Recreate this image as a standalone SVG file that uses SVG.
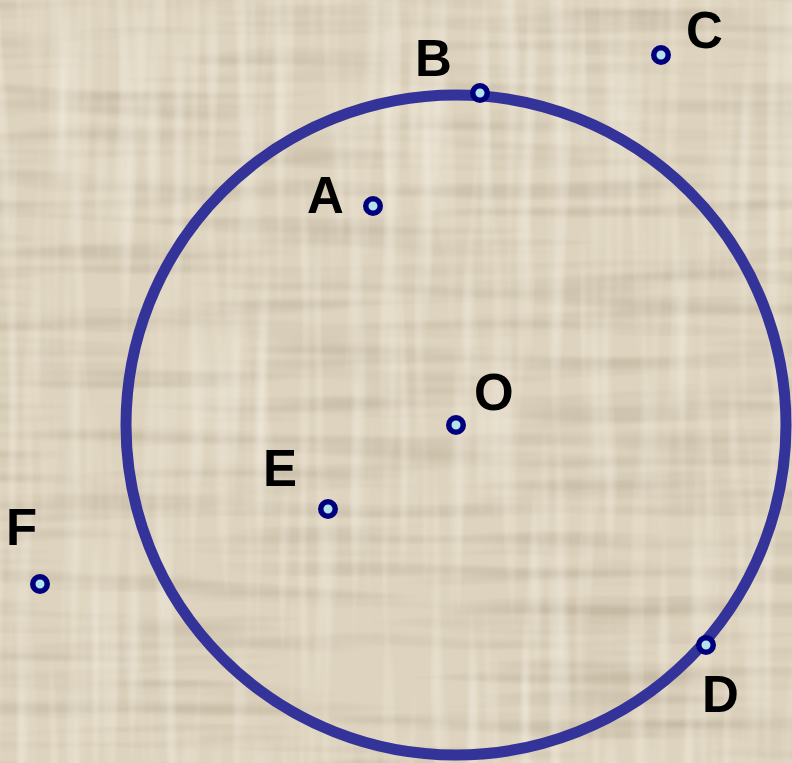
<svg xmlns="http://www.w3.org/2000/svg" width="792" height="763" viewBox="0 0 792 763">
<defs>
<filter id="texH" x="0" y="0" width="100%" height="100%">
<feTurbulence type="fractalNoise" baseFrequency="0.004 0.06" numOctaves="2" seed="3" result="n"/>
<feColorMatrix in="n" type="matrix" values="0 0 0 0 0.45  0 0 0 0 0.38  0 0 0 0 0.28  0 0 0 -2.2 1.25"/>
</filter>
<filter id="texV" x="0" y="0" width="100%" height="100%">
<feTurbulence type="fractalNoise" baseFrequency="0.06 0.004" numOctaves="2" seed="7" result="n"/>
<feColorMatrix in="n" type="matrix" values="0 0 0 0 0.98  0 0 0 0 0.94  0 0 0 0 0.86  0 0 0 -2.2 1.25"/>
</filter>
<style>
.pt{fill:#b3e3ee;stroke:#00007f;stroke-width:5.5}
.lbl{font-family:"Liberation Sans",Arial,sans-serif;font-weight:bold;font-size:51px;fill:#000}
</style>
</defs>
<rect width="792" height="763" fill="#ddd3be"/>
<rect width="792" height="763" filter="url(#texH)" opacity="0.55"/>
<rect width="792" height="763" filter="url(#texV)" opacity="0.5"/>
<g id="circle">
<circle cx="456" cy="425" r="330" fill="none" stroke="#333399" stroke-width="11"/>
</g>
<g id="B"><circle class="pt" cx="480" cy="93" r="7.25"/><text class="lbl" x="415" y="76">B</text></g>
<g id="C"><circle class="pt" cx="661" cy="55" r="7.25"/><text class="lbl" x="686" y="48">C</text></g>
<g id="A"><circle class="pt" cx="373" cy="206" r="7.25"/><text class="lbl" x="307" y="213">A</text></g>
<g id="O"><circle class="pt" cx="456" cy="425" r="7.25"/><text class="lbl" x="474" y="410">O</text></g>
<g id="E"><circle class="pt" cx="328" cy="509" r="7.25"/><text class="lbl" x="263" y="486">E</text></g>
<g id="F"><circle class="pt" cx="40" cy="584" r="7.25"/><text class="lbl" x="6" y="545">F</text></g>
<g id="D"><circle class="pt" cx="706" cy="645" r="7.25"/><text class="lbl" x="702" y="712">D</text></g>
</svg>
